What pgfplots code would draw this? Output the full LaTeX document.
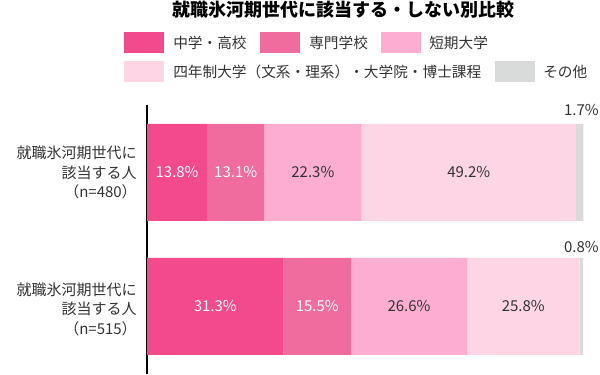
\documentclass[border=0pt]{standalone}
\usepackage{pgfplots}
\pgfplotsset{compat=1.18}
\usepackage{fontspec}
\setmainfont{Noto Sans CJK JP}
\definecolor{c1}{RGB}{242,74,138}
\definecolor{c2}{RGB}{240,107,158}
\definecolor{c3}{RGB}{252,173,208}
\definecolor{c4}{RGB}{253,213,229}
\definecolor{c5}{RGB}{217,218,218}
\definecolor{tx}{RGB}{51,51,51}
\newcommand{\lgf}{\fontsize{11pt}{14.6pt}\selectfont}
\newcommand{\pcf}{\fontsize{11.25pt}{13pt}\selectfont}
\tikzset{pct/.style={font=\pcf, inner sep=0pt}}
\begin{document}
\begin{tikzpicture}
\begin{scope}[x=0.75pt,y=0.75pt]
\useasboundingbox (0,0) rectangle (600,374);
% title
\node[font=\fontsize{13.5pt}{16pt}\selectfont\bfseries, text=black] at (343,364) {就職氷河期世代に該当する・しない別比較};
% legend
\fill[c1] (124,321) rectangle (164,342);
\node[anchor=west, font=\lgf, text=tx, inner sep=0pt] at (173,331.5) {中学・高校};
\fill[c2] (260,321) rectangle (300,342);
\node[anchor=west, font=\lgf, text=tx, inner sep=0pt] at (309,331.5) {専門学校};
\fill[c3] (381,321) rectangle (421,342);
\node[anchor=west, font=\lgf, text=tx, inner sep=0pt] at (429,331.5) {短期大学};
\fill[c4] (124,292) rectangle (164,313);
\node[anchor=west, font=\lgf, text=tx, inner sep=0pt] at (173,302.5) {四年制大学（文系・理系）・大学院・博士課程};
\fill[c5] (495,292) rectangle (535,313);
\node[anchor=west, font=\lgf, text=tx, inner sep=0pt] at (543,302.5) {その他};
% y labels
\node[anchor=east, align=right, font=\fontsize{11.25pt}{14.6pt}\selectfont, text=tx, inner sep=0pt] at (137,201.5) {就職氷河期世代に\\該当する人\\（n=480）};
\node[anchor=east, align=right, font=\fontsize{11.25pt}{14.6pt}\selectfont, text=tx, inner sep=0pt] at (137,65) {就職氷河期世代に\\該当する人\\（n=515）};
\node[pct, anchor=east, text=tx] at (599,264) {1.7\%};
\node[pct, anchor=east, text=tx] at (599,127) {0.8\%};
\end{scope}
\begin{axis}[
  at={(110.25pt,0pt)}, anchor=south west,
  scale only axis, width=327pt, height=201.75pt,
  xbar stacked, bar width=97,
  xmin=0, xmax=100, ymin=0, ymax=269,
  axis x line=none, axis y line*=left,
  y axis line style={line width=0.9pt, black},
  xtick=\empty, ytick=\empty,
  clip=false,
]
\addplot[fill=c1, draw=none] coordinates {(13.8,201.5) (31.3,67.5)};
\addplot[fill=c2, draw=none] coordinates {(13.1,201.5) (15.5,67.5)};
\addplot[fill=c3, draw=none] coordinates {(22.3,201.5) (26.6,67.5)};
\addplot[fill=c4, draw=none] coordinates {(49.2,201.5) (25.8,67.5)};
\addplot[fill=c5, draw=none] coordinates {(1.7,201.5) (0.8,67.5)};
\coordinate (a1) at (axis cs:6.9,201.5);
\coordinate (a2) at (axis cs:20.35,201.5);
\coordinate (a3) at (axis cs:38.05,201.5);
\coordinate (a4) at (axis cs:73.8,201.5);
\coordinate (b1) at (axis cs:15.65,67.5);
\coordinate (b2) at (axis cs:39.05,67.5);
\coordinate (b3) at (axis cs:60.1,67.5);
\coordinate (b4) at (axis cs:86.3,67.5);
\end{axis}
\node[pct, text=white] at (a1) {13.8\%};
\node[pct, text=white] at (a2) {13.1\%};
\node[pct, text=tx] at (a3) {22.3\%};
\node[pct, text=tx] at (a4) {49.2\%};
\node[pct, text=white] at (b1) {31.3\%};
\node[pct, text=white] at (b2) {15.5\%};
\node[pct, text=tx] at (b3) {26.6\%};
\node[pct, text=tx] at (b4) {25.8\%};
\end{tikzpicture}
\end{document}
